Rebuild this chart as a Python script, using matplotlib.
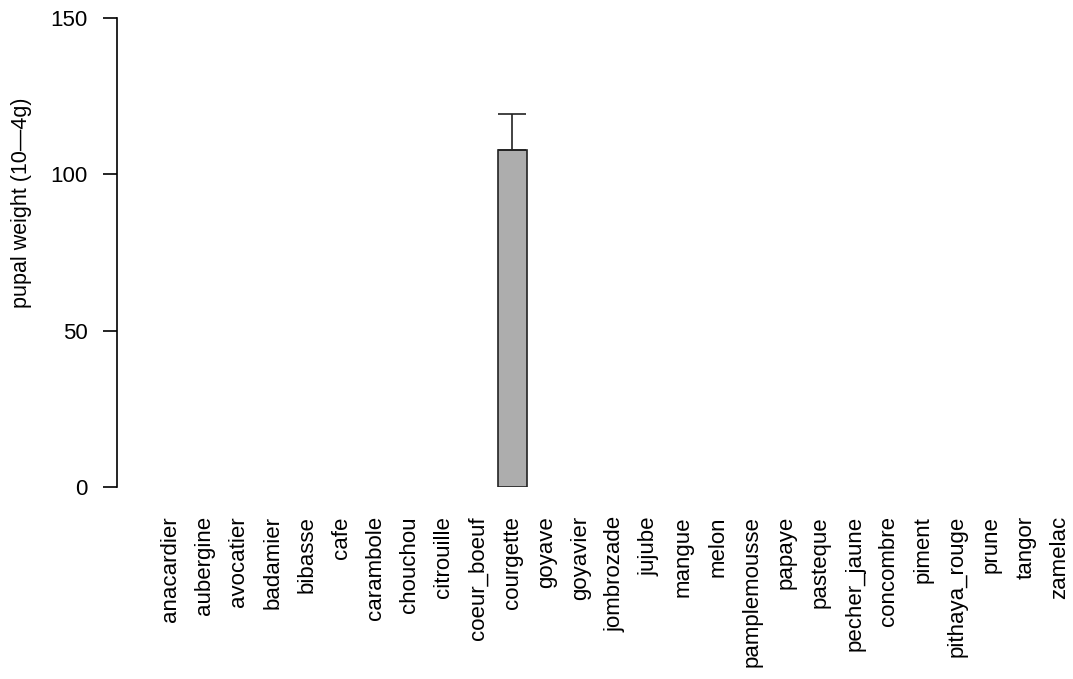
import numpy as np
import matplotlib
matplotlib.use("Agg")
import matplotlib.pyplot as plt

plt.rcParams['font.family'] = ['Liberation Sans', 'DejaVu Sans']

# Data
hosts = ["anacardier", "aubergine", "avocatier", "badamier", "bibasse", "cafe",
         "carambole", "chouchou", "citrouille", "coeur_boeuf", "courgette",
         "goyave", "goyavier", "jombrozade", "jujube", "mangue", "melon",
         "pamplemousse", "papaye", "pasteque", "pecher_jaune", "concombre",
         "piment", "pithaya_rouge", "prune", "tangor", "zamelac"]
weight = [0, 0, 0, 0, 0, 0, 0, 0, 0, 0, 107.7, 0, 0, 0, 0, 0, 0, 0, 0, 0,
          0, 0, 0, 0, 0, 0, 0]
weight_se = [0, 0, 0, 0, 0, 0, 0, 0, 0, 0, 11.6, 0, 0, 0, 0, 0, 0, 0, 0, 0,
             0, 0, 0, 0, 0, 0, 0]
yticks = [0, 50, 100, 150]

W, H = 1073, 679
fig = plt.figure(figsize=(W / 100, H / 100), dpi=100)
ax = fig.add_axes([117 / W, 1 - 487 / H, (W - 117) / W, (487 - 18) / H])

x = np.arange(len(hosts))
w = np.array(weight)
se = np.array(weight_se)
has = w > 0

bw = 1 / 1.2
# empty hosts have no visible bar outline in the original
ax.bar(x, w, width=bw, color="#adadad", edgecolor="#222222",
       linewidth=[1.2 if h else 0 for h in has])

# upper error bars only, for hosts with data
ax.errorbar(x[has], w[has], yerr=[np.zeros(has.sum()), se[has]], fmt="none",
            ecolor="#222222", elinewidth=1.2, capsize=10, capthick=1.2)

px = 34.23
ax.set_xlim(-(170 - 117) / px, 26 + (W - 1060) / px)
ax.set_ylim(0, 150)

for s in ["top", "right", "bottom"]:
    ax.spines[s].set_visible(False)
ax.spines["left"].set_linewidth(1.2)

ax.set_yticks(yticks)
ax.set_yticklabels([str(t) for t in yticks], fontsize=16)
ax.tick_params(axis="y", length=10, width=1.2, pad=11)
ax.set_xticks(x)
ax.set_xticklabels(hosts, rotation=90, fontsize=16, va="top")
ax.tick_params(axis="x", length=0, pad=21)

fig.text(22 / W, 1 - 203 / H, "pupal weight (10—4g)", rotation=90,
         ha="center", va="center", fontsize=15.5)

fig.savefig("out.png", dpi=100)
